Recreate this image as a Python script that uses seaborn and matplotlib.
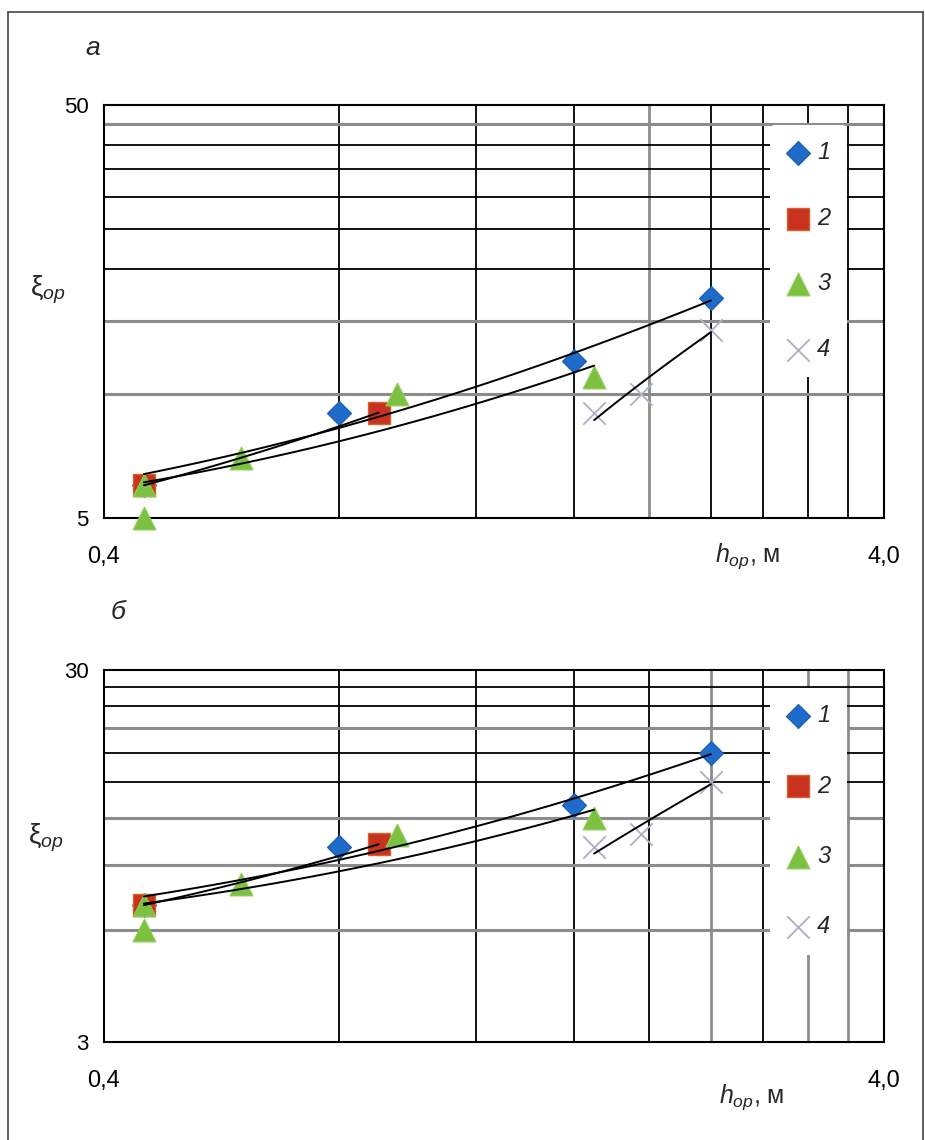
import numpy as np
import matplotlib
matplotlib.use("Agg")
import matplotlib.pyplot as plt
from matplotlib.lines import Line2D
from matplotlib.ticker import NullLocator
import seaborn as sns

# data (panel a, panel б)
x1_a = [0.45, 0.8, 1.6, 2.4]
y1_a = [6.0, 9.0, 12.0, 17.0]
x2_a = [0.45, 0.9]
y2_a = [6.0, 9.0]
x3_a = [0.45, 0.45, 0.6, 0.95, 1.7]
y3_a = [6.0, 5.0, 7.0, 10.0, 11.0]
x4_a = [1.7, 1.95, 2.4]
y4_a = [9.0, 10.0, 14.3]

x1_b = [0.45, 0.8, 1.6, 2.4]
y1_b = [7.0, 10.0, 13.0, 18.0]
x2_b = [0.45, 0.9]
y2_b = [7.0, 10.2]
x3_b = [0.45, 0.45, 0.6, 0.95, 1.7]
y3_b = [7.0, 6.0, 8.0, 10.8, 12.0]
x4_b = [1.7, 1.95, 2.4]
y4_b = [10.0, 10.9, 15.0]

series_labels = ["1", "2", "3", "4"]
x_grid = [0.8, 1.2, 1.6, 2.0, 2.4, 2.8, 3.2, 3.6]
y_grid_a = [10, 15, 20, 25, 30, 35, 40, 45]
y_grid_b = [6, 9, 12, 15, 18, 21, 24, 27]

sns.set_style("white")
plt.rcParams["font.family"] = ["Liberation Sans", "DejaVu Sans"]
plt.rcParams["mathtext.fontset"] = "custom"
plt.rcParams["mathtext.rm"] = "Liberation Sans"
plt.rcParams["mathtext.it"] = "Liberation Sans:italic"

fig = plt.figure(figsize=(9.25, 11.4), dpi=100)
W, H = 925, 1140


def fx(px):
    return px / W


def fy(py):
    return 1 - py / H


styles = [
    dict(marker="D", color="#1f6bc9", s=150, edgecolor="#1a5cb0", linewidth=0.8),
    dict(marker="s", color="#c8321e", s=270, edgecolor="#d2642a", linewidth=1.0),
    dict(marker="^", color="#7cc142", s=270, edgecolor="#8fcf55", linewidth=0.8),
    dict(marker="x", color="#aab0c6", s=260, linewidth=1.3),
]


def panel(ax, data, ylim, ygrid, ygray, xgray, leg_space):
    ax.set_xscale("log")
    ax.set_yscale("log")
    ax.set_xlim(0.4, 4.0)
    ax.set_ylim(*ylim)
    for v in x_grid:
        c, lw = ("#8c8c8c", 2.0) if v in xgray else ("black", 1.3)
        ax.axvline(v, color=c, lw=lw, zorder=1)
    for v in ygrid:
        c, lw = ("#8c8c8c", 2.2) if v in ygray else ("black", 1.3)
        ax.axhline(v, color=c, lw=lw, zorder=1)

    handles = []
    for (x, y), st, lab in zip(data, styles, series_labels):
        sns.scatterplot(x=x, y=y, ax=ax, zorder=3, label=lab, legend=False,
                        clip_on=False, **st)
        handles.append(ax.collections[-1])
    for x, y in data:
        sns.regplot(x=np.array(x), y=np.array(y), ax=ax, scatter=False, ci=None,
                    truncate=True, color="black", line_kws=dict(lw=1.4, zorder=4))

    ax.set_xticks([0.4, 4.0])
    ax.set_xticklabels(["0,4", "4,0"])
    ax.set_yticks(list(ylim))
    ax.set_yticklabels([f"{ylim[0]:g}", f"{ylim[1]:g}"])
    ax.xaxis.set_minor_locator(NullLocator())
    ax.yaxis.set_minor_locator(NullLocator())
    ax.tick_params(axis="both", direction="out", length=8, width=1.3,
                   color="black", labelcolor="black")
    ax.tick_params(axis="x", pad=12, labelsize=17)
    ax.tick_params(axis="y", pad=3, labelsize=16)
    ax.set_xlabel("")
    ax.set_ylabel("")
    for sp in ax.spines.values():
        sp.set_color("black")
        sp.set_linewidth(1.5)
        sp.set_visible(True)

    leg = ax.legend(handles, series_labels, loc="upper left",
                    bbox_to_anchor=(0.854, 0.952), frameon=True,
                    facecolor="white", edgecolor="none", framealpha=1,
                    labelspacing=leg_space, handletextpad=0.3,
                    borderpad=0.7, borderaxespad=0, handlelength=1.0,
                    prop=dict(style="italic", size=17))
    leg.set_zorder(5)


ax_a = fig.add_axes([fx(104), fy(518), fx(780), 413 / H])
ax_b = fig.add_axes([fx(104), fy(1042), fx(780), 372 / H])

panel(ax_a, [(x1_a, y1_a), (x2_a, y2_a), (x3_a, y3_a), (x4_a, y4_a)],
      (5, 50), y_grid_a, [10, 15, 45], [2.0], 1.8)
panel(ax_b, [(x1_b, y1_b), (x2_b, y2_b), (x3_b, y3_b), (x4_b, y4_b)],
      (3, 30), y_grid_b, [6, 9, 12, 21], [2.4, 3.2, 3.6], 2.0)

# panel letters and axis titles
fig.text(fx(93), fy(48), "а", fontsize=19, style="italic", ha="center", va="center")
fig.text(fx(118), fy(612), "б", fontsize=19, style="italic", ha="center", va="center")
fig.text(fx(48), fy(290), r"$\mathrm{ξ}_{ор}$", fontsize=20, ha="center", va="center")
fig.text(fx(46), fy(838), r"$\mathrm{ξ}_{ор}$", fontsize=20, ha="center", va="center")
fig.text(fx(748), fy(556), r"$h_{ор}$, м", fontsize=18, ha="center", va="center")
fig.text(fx(752), fy(1097), r"$h_{ор}$, м", fontsize=18, ha="center", va="center")

# outer frame
for xs, ys in [((8, 8), (12, 1140)), ((8, 923), (12, 12)), ((923, 923), (12, 1140))]:
    fig.add_artist(Line2D([fx(v) for v in xs], [fy(v) for v in ys],
                          transform=fig.transFigure, color="#444444", lw=1.2))

fig.savefig("out.png", dpi=100, facecolor="white")
